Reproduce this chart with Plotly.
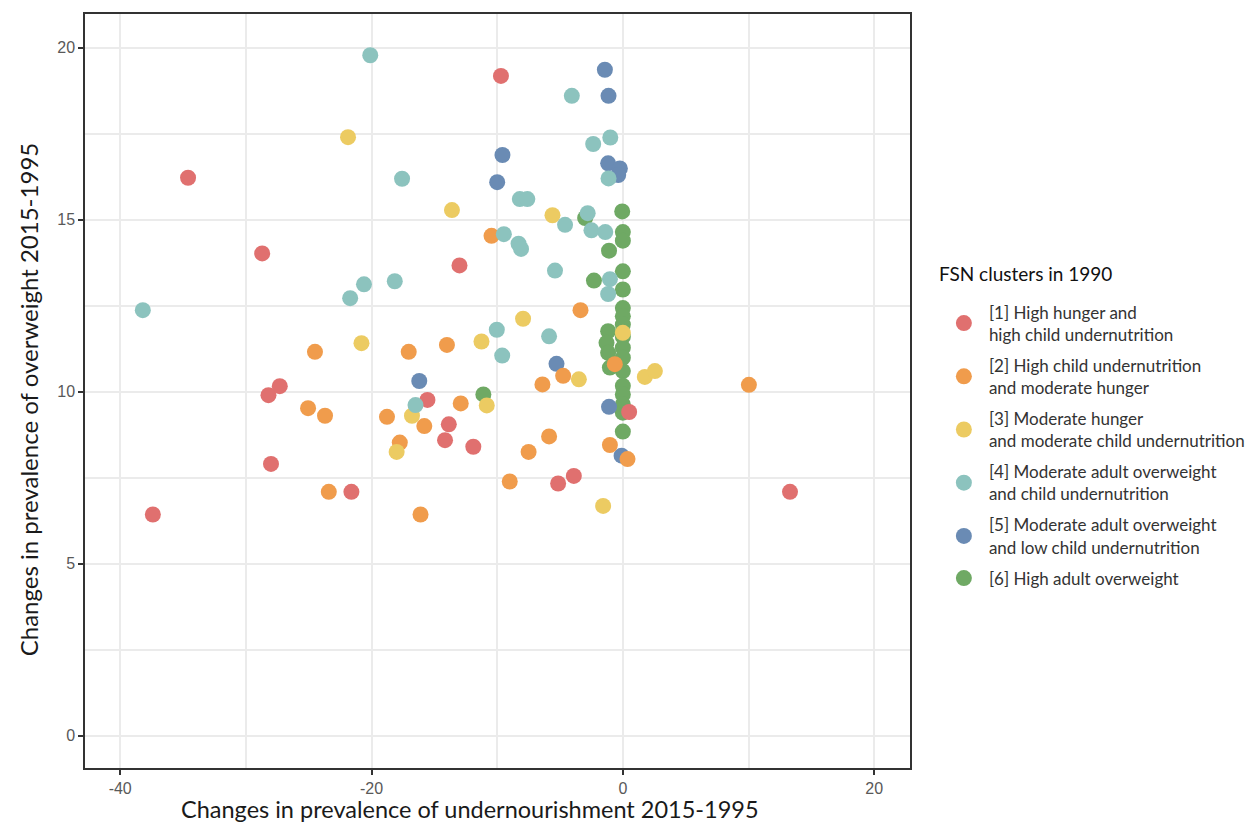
import plotly.graph_objects as go

# Cluster names
names = [
    "[1] High hunger and<br>high child undernutrition",
    "[2] High child undernutrition<br>and moderate hunger",
    "[3] Moderate hunger<br>and moderate child undernutrition",
    "[4] Moderate adult overweight<br>and child undernutrition",
    "[5] Moderate adult overweight<br>and low child undernutrition",
    "[6] High adult overweight",
]
colors = ["#E0706F", "#F09C4C", "#ECCB62", "#8CC3BE", "#6A8BB4", "#6FA964"]

x1 = [-34.6, -28.7, -28.2, -27.3, -28.0, -37.4, -9.7, -13.0, -15.55, -13.85, -14.15, -11.9, -21.6, -5.15, -3.9, 0.5, 13.3]
y1 = [16.22, 14.02, 9.9, 10.16, 7.9, 6.43, 19.18, 13.67, 9.76, 9.05, 8.59, 8.4, 7.09, 7.33, 7.55, 9.41, 7.09]

x2 = [-24.5, -25.05, -23.7, -17.04, -14.0, -18.77, -15.8, -17.75, -12.9, -23.4, -16.1, -10.45, -3.37, -4.75, -6.4, -0.64, -5.87, -7.5, -9.0, -1.03, 0.37, 10.03]
y2 = [11.16, 9.52, 9.3, 11.16, 11.36, 9.27, 9.0, 8.52, 9.66, 7.09, 6.43, 14.53, 12.37, 10.46, 10.21, 10.8, 8.7, 8.25, 7.39, 8.45, 8.04, 10.2]

x3 = [-21.87, -13.6, -20.8, -11.25, -16.78, -10.83, -18.0, -5.6, -7.94, -3.5, 0.0, 1.75, 2.55, -1.57]
y3 = [17.4, 15.28, 11.41, 11.46, 9.3, 9.6, 8.25, 15.13, 12.12, 10.36, 11.71, 10.43, 10.6, 6.68]

x4 = [-38.2, -17.57, -20.6, -21.7, -18.15, -16.5, -10.03, -9.6, -20.1, -4.06, -1.0, -2.36, -1.14, -8.2, -7.6,
      -2.8, -4.6, -9.47, -2.5, -1.4, -8.3, -8.1, -5.4, -1.03, -1.17, -5.87]
y4 = [12.37, 16.19, 13.12, 12.72, 13.21, 9.61, 11.8, 11.05, 19.78, 18.6, 17.39, 17.2, 16.2, 15.6, 15.6,
      15.19, 14.85, 14.58, 14.69, 14.64, 14.3, 14.15, 13.52, 13.27, 12.84, 11.61]

x5 = [-1.43, -1.14, -9.58, -10.0, -1.17, -0.24, -0.37, -5.28, -1.1, -16.2, -0.1]
y5 = [19.36, 18.6, 16.88, 16.09, 16.64, 16.49, 16.3, 10.81, 9.56, 10.31, 8.14]

x6 = [-0.05, 0.0, 0.0, -1.1, -3.0, 0.0, -2.3, 0.0, 0.0, 0.0, 0.0, -1.17, -1.3, -1.17, -1.03, 0.0, 0.0,
      0.0, 0.0, 0.0, 0.0, 0.0, 0.0, -11.1, 0.0]
y6 = [15.24, 14.64, 14.39, 14.1, 15.05, 13.5, 13.23, 12.97, 12.43, 12.19, 11.95, 11.76, 11.42, 11.13, 10.7, 11.6,
      11.28, 10.99, 10.6, 10.17, 9.92, 9.63, 9.39, 9.92, 8.84]

xs = [x1, x2, x3, x4, x5, x6]
ys = [y1, y2, y3, y4, y5, y6]

x_ticks = [-40, -20, 0, 20]
y_ticks = [0, 5, 10, 15, 20]

x_title = "Changes in prevalence of undernourishment 2015-1995"
y_title = "Changes in prevalence of overweight 2015-1995"
legend_title = "FSN clusters in 1990"

fig = go.Figure()
draw_order = [5, 4, 0, 1, 2, 3]
for i in draw_order:
    fig.add_trace(go.Scatter(
        x=xs[i], y=ys[i], mode="markers", name=names[i],
        legendrank=i + 1, legendgroup="g%d" % i,
        marker=dict(size=16, color=colors[i], line=dict(width=0)),
    ))

grid = "#EBEBEB"
tickfont = dict(family="Liberation Sans, Arial", size=16, color="#595959")
fig.update_layout(
    width=1252, height=817,
    paper_bgcolor="white", plot_bgcolor="white",
    margin=dict(l=77, r=350, t=4, b=57),
    font=dict(family="Lato, sans-serif", color="#1a1a1a"),
    xaxis=dict(
        range=[-42.8, 22.85], tickvals=x_ticks, ticktext=[str(v) for v in x_ticks],
        showgrid=True, gridcolor=grid, gridwidth=1.5,
        minor=dict(dtick=10, tick0=0, showgrid=True, gridcolor=grid, gridwidth=1.5),
        zeroline=False, showline=True, linecolor="#333333", linewidth=1.5, mirror=True,
        ticks="outside", ticklen=5, tickcolor="#333333", tickwidth=1.5,
        tickfont=tickfont,
    ),
    yaxis=dict(
        range=[-0.94, 20.98], tickvals=y_ticks, ticktext=[str(v) for v in y_ticks],
        showgrid=True, gridcolor=grid, gridwidth=1.5,
        minor=dict(dtick=2.5, tick0=0, showgrid=True, gridcolor=grid, gridwidth=1.5),
        zeroline=False, showline=True, linecolor="#333333", linewidth=1.5, mirror=True,
        ticks="outside", ticklen=5, tickcolor="#333333", tickwidth=1.5,
        tickfont=tickfont,
    ),
    legend=dict(
        x=1.035, y=0.628, xanchor="left", yanchor="top",
        font=dict(size=17, color="#333333"),
        itemsizing="trace", itemwidth=40, tracegroupgap=6, bgcolor="rgba(0,0,0,0)",
    ),
    annotations=[
        dict(text=x_title, xref="paper", yref="paper", x=0.4667, y=-0.0542,
             xanchor="center", yanchor="middle", showarrow=False,
             font=dict(family="Lato, sans-serif", size=23.5, color="#1a1a1a")),
        dict(text=y_title, xref="paper", yref="paper", x=-0.0691, y=0.489, textangle=-90,
             xanchor="center", yanchor="middle", showarrow=False,
             font=dict(family="Lato, sans-serif", size=24, color="#1a1a1a")),
        dict(text=legend_title, xref="paper", yref="paper", x=1.0327, y=0.656,
             xanchor="left", yanchor="middle", showarrow=False,
             font=dict(family="Lato, sans-serif", size=19, color="#111111")),
    ],
)

fig.write_html("out.html")
